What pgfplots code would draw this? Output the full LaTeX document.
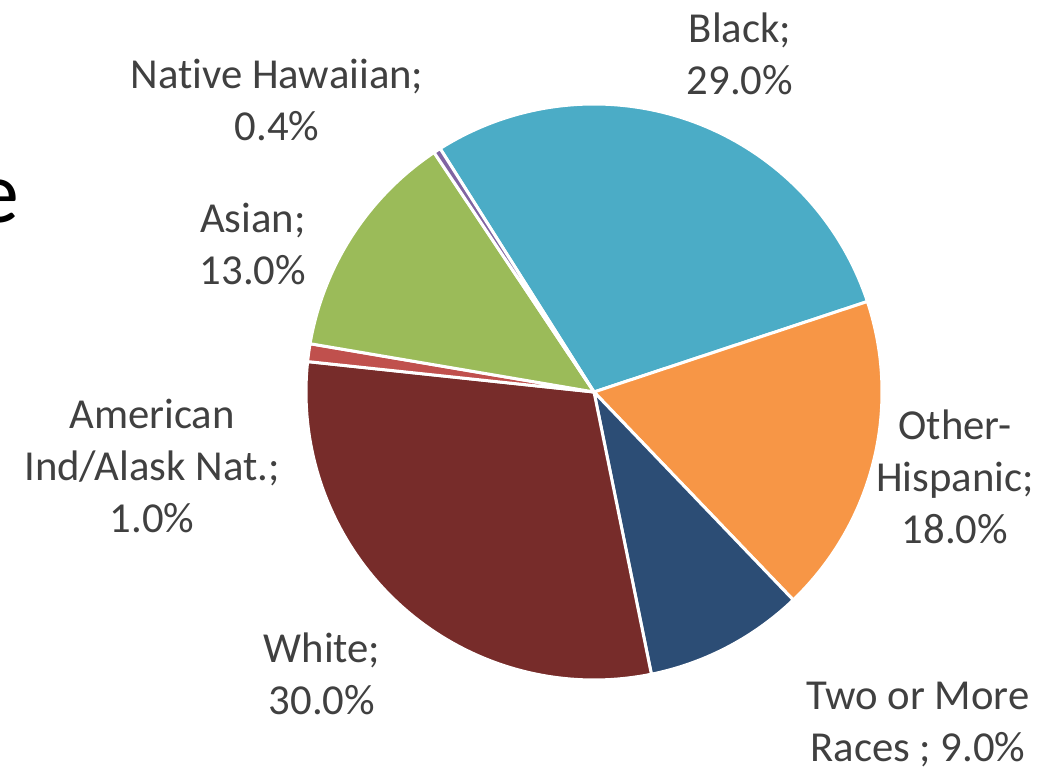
\documentclass[border=0pt]{standalone}
\usepackage{pgfplots}
\pgfplotsset{compat=1.18}
\usepackage{fontspec}
\setmainfont[Ligatures=NoCommon]{Carlito}
\definecolor{cBlack}{HTML}{4BACC6}
\definecolor{cOther}{HTML}{F79646}
\definecolor{cTwo}{HTML}{2C4D75}
\definecolor{cWhite}{HTML}{772C2A}
\definecolor{cAm}{HTML}{C0504D}
\definecolor{cAsian}{HTML}{9BBB59}
\definecolor{cNH}{HTML}{8064A2}
\definecolor{lbl}{HTML}{404040}
% #1 cumulative start (percent), #2 value (percent), #3 colour
\newcommand{\slice}[3]{%
  \pgfmathsetmacro\aS{122.3-(#1)/100.4*360}%
  \pgfmathsetmacro\aE{122.3-(#1+#2)/100.4*360}%
  \addplot[fill=#3, draw=white, line width=3pt, line join=round, domain=\aE:\aS, samples=80]
    ({594+288*cos(x)},{379+288*sin(x)}) -- (axis cs:594,379) -- cycle;
}
\begin{document}
\begin{tikzpicture}
\begin{axis}[at={(0,0)}, anchor=south west, width=1058pt, height=771pt, scale only axis,
  xmin=0, xmax=1058, ymin=0, ymax=771, hide axis, clip=false]
\slice{0}{29}{cBlack}
\slice{29}{18}{cOther}
\slice{47}{9}{cTwo}
\slice{56}{30}{cWhite}
\slice{86}{1}{cAm}
\slice{87}{13}{cAsian}
\slice{100}{0.4}{cNH}
\tikzset{lab/.style={text=lbl, align=center, font=\fontsize{42.7}{52}\selectfont, inner sep=0pt}}
\node[lab] at (axis cs:740,717) {Black;\\29.0\%};
\node[lab] at (axis cs:277,671) {Native Hawaiian;\\0.4\%};
\node[lab] at (axis cs:253,527) {Asian;\\13.0\%};
\node[lab] at (axis cs:152,305) {American\\Ind/Alask Nat.;\\1.0\%};
\node[lab] at (axis cs:322,97) {White;\\30.0\%};
\node[lab] at (axis cs:918,46) {Two or More\\Races ; 9.0\%};
\node[lab] at (axis cs:955,294) {Other-\\Hispanic;\\18.0\%};
\node[anchor=base east, inner sep=0pt, font=\fontsize{88}{100}\selectfont] at (axis cs:19,548) {e};
\end{axis}
\pgfresetboundingbox
\useasboundingbox (0,0) rectangle (1058pt,771pt);
\end{tikzpicture}
\end{document}
